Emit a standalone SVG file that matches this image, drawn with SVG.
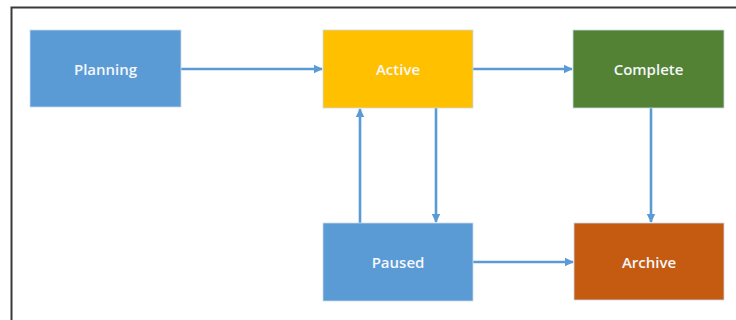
<svg xmlns="http://www.w3.org/2000/svg" width="736" height="320" viewBox="0 0 736 320">
<style>
.n rect{stroke:#c9d9ea;stroke-width:0.8}
.n text{fill:#f4f7fb;font-family:"Open Sans","Liberation Sans",sans-serif;font-size:15px;font-weight:600;text-anchor:middle;dominant-baseline:central}
.c line{stroke:#5b9bd5;stroke-width:2.6;fill:none;marker-end:url(#ah)}
</style>
<defs>
<marker id="ah" markerWidth="10" markerHeight="10" refX="8" refY="5" orient="auto" markerUnits="userSpaceOnUse">
<path d="M0,0.8 L9,5 L0,9.2 Z" fill="#5b9bd5"/>
</marker>
</defs>
<rect width="736" height="320" fill="#ffffff"/>
<path d="M11.5,320 L11.5,7.5 L736,7.5" fill="none" stroke="#3a3a3a" stroke-width="2"/>
<g class="c">
<line x1="181" y1="69" x2="322" y2="69"/>
<line x1="473" y1="69" x2="572" y2="69"/>
<line x1="436" y1="108" x2="436" y2="222"/>
<line x1="360" y1="223" x2="360" y2="109"/>
<line x1="651" y1="108" x2="651" y2="222"/>
<line x1="473" y1="262" x2="573" y2="262"/>
</g>
<g id="planning" class="n"><rect x="30" y="30" width="151" height="77" fill="#5b9bd5"/><text x="105.5" y="69">Planning</text></g>
<g id="active" class="n"><rect x="323" y="30" width="150" height="78" fill="#ffc000"/><text x="398" y="69">Active</text></g>
<g id="complete" class="n"><rect x="573" y="30" width="151" height="78" fill="#548235"/><text x="648.5" y="69">Complete</text></g>
<g id="paused" class="n"><rect x="323" y="223" width="150" height="78" fill="#5b9bd5"/><text x="398" y="262">Paused</text></g>
<g id="archive" class="n"><rect x="574" y="223" width="150" height="77" fill="#c55a11"/><text x="649" y="262">Archive</text></g>
</svg>
